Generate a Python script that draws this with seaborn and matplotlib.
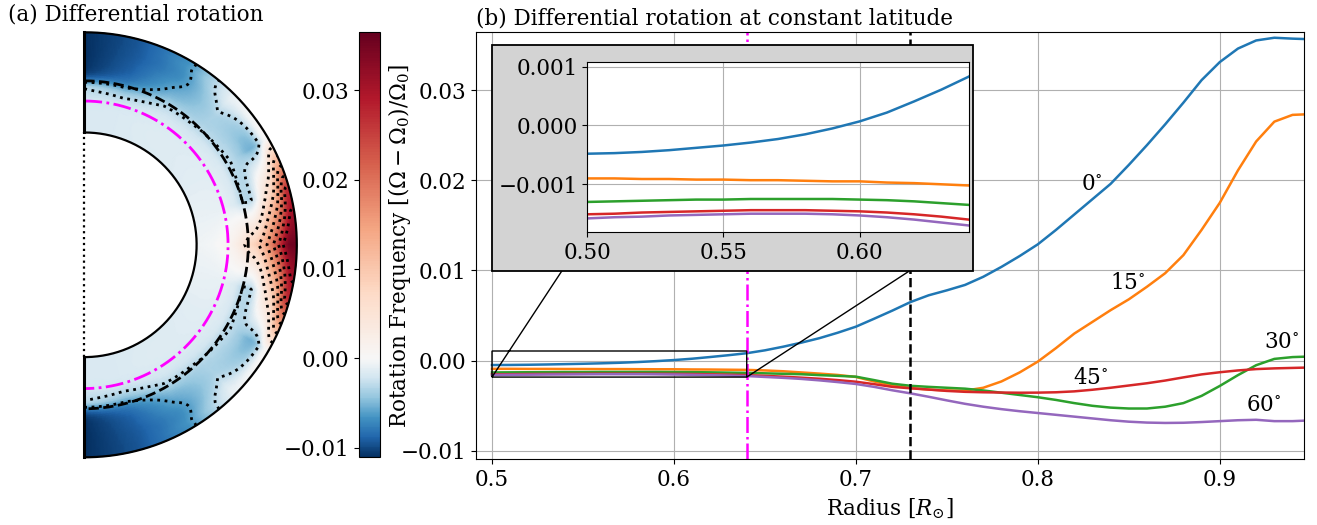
import numpy as np
import pandas as pd
import matplotlib
matplotlib.use("Agg")
import matplotlib.pyplot as plt
import seaborn as sns
from matplotlib.colors import ListedColormap, Normalize
from matplotlib.cm import ScalarMappable
from matplotlib.patches import Rectangle

# ---------------- data ----------------
radius = [0.50, 0.51, 0.52, 0.53, 0.54, 0.55, 0.56, 0.57, 0.58, 0.59,
          0.60, 0.61, 0.62, 0.63, 0.64, 0.65, 0.66, 0.67, 0.68, 0.69,
          0.70, 0.71, 0.72, 0.73, 0.74, 0.75, 0.76, 0.77, 0.78, 0.79,
          0.80, 0.81, 0.82, 0.83, 0.84, 0.85, 0.86, 0.87, 0.88, 0.89,
          0.90, 0.91, 0.92, 0.93, 0.94, 0.946]

omega_lat0 = [-0.00048, -0.00047, -0.00045, -0.00042, -0.00038, -0.00034, -0.00029, -0.00023, -0.00015, -0.00005,
              0.00007, 0.00022, 0.00041, 0.00061, 0.00083, 0.00115, 0.00155, 0.00200, 0.00250, 0.00310,
              0.00377, 0.00465, 0.00555, 0.00650, 0.00725, 0.00780, 0.00840, 0.00930, 0.01040, 0.01160,
              0.01290, 0.01450, 0.01620, 0.01790, 0.01960, 0.02170, 0.02390, 0.02620, 0.02860, 0.03110,
              0.03310, 0.03460, 0.03550, 0.03580, 0.03570, 0.03566]
omega_lat15 = [-0.00090, -0.00090, -0.00091, -0.00091, -0.00092, -0.00092, -0.00093, -0.00093, -0.00094, -0.00095,
               -0.00095, -0.00097, -0.00098, -0.00100, -0.00102, -0.00108, -0.00117, -0.00130, -0.00143, -0.00158,
               -0.00180, -0.00230, -0.00275, -0.00303, -0.00320, -0.00330, -0.00332, -0.00300, -0.00230, -0.00130,
               -0.00010, 0.00140, 0.00300, 0.00430, 0.00560, 0.00680, 0.00820, 0.00970, 0.01170, 0.01450,
               0.01750, 0.02110, 0.02430, 0.02650, 0.02725, 0.02730]
omega_lat30 = [-0.00130, -0.00129, -0.00128, -0.00127, -0.00126, -0.00126, -0.00125, -0.00125, -0.00125, -0.00125,
               -0.00126, -0.00127, -0.00129, -0.00132, -0.00135, -0.00140, -0.00145, -0.00150, -0.00160, -0.00168,
               -0.00177, -0.00215, -0.00255, -0.00278, -0.00290, -0.00300, -0.00310, -0.00330, -0.00355, -0.00380,
               -0.00405, -0.00435, -0.00470, -0.00500, -0.00520, -0.00530, -0.00530, -0.00510, -0.00470, -0.00390,
               -0.00280, -0.00160, -0.00050, 0.00020, 0.00040, 0.00044]
omega_lat45 = [-0.00151, -0.00150, -0.00148, -0.00147, -0.00146, -0.00145, -0.00144, -0.00144, -0.00144, -0.00145,
               -0.00146, -0.00148, -0.00151, -0.00155, -0.00160, -0.00168, -0.00177, -0.00188, -0.00200, -0.00215,
               -0.00233, -0.00260, -0.00290, -0.00306, -0.00320, -0.00335, -0.00345, -0.00350, -0.00353, -0.00355,
               -0.00354, -0.00350, -0.00340, -0.00322, -0.00300, -0.00275, -0.00250, -0.00220, -0.00185, -0.00152,
               -0.00128, -0.00108, -0.00093, -0.00085, -0.00080, -0.00077]
omega_lat60 = [-0.00158, -0.00156, -0.00155, -0.00153, -0.00152, -0.00151, -0.00150, -0.00150, -0.00150, -0.00151,
               -0.00153, -0.00156, -0.00160, -0.00165, -0.00170, -0.00180, -0.00190, -0.00202, -0.00218, -0.00237,
               -0.00258, -0.00290, -0.00328, -0.00362, -0.00400, -0.00440, -0.00478, -0.00510, -0.00537, -0.00560,
               -0.00580, -0.00600, -0.00620, -0.00640, -0.00660, -0.00676, -0.00686, -0.00690, -0.00688, -0.00680,
               -0.00670, -0.00660, -0.00655, -0.00670, -0.00670, -0.00665]
# high-latitude profiles (only visible in the meridional map)
omega_lat75 = [-0.00170, -0.00170, -0.00170, -0.00170, -0.00170, -0.00170, -0.00170, -0.00170, -0.00170, -0.00170,
               -0.00170, -0.00175, -0.00180, -0.00190, -0.00200, -0.00220, -0.00250, -0.00280, -0.00320, -0.00370,
               -0.00430, -0.00500, -0.00580, -0.00660, -0.00730, -0.00780, -0.00820, -0.00850, -0.00870, -0.00890,
               -0.00900, -0.00910, -0.00915, -0.00920, -0.00925, -0.00930, -0.00935, -0.00940, -0.00940, -0.00945,
               -0.00945, -0.00950, -0.00950, -0.00950, -0.00950, -0.00950]
omega_lat90 = [-0.00180, -0.00180, -0.00180, -0.00180, -0.00180, -0.00180, -0.00180, -0.00180, -0.00180, -0.00180,
               -0.00180, -0.00185, -0.00190, -0.00200, -0.00210, -0.00220, -0.00235, -0.00250, -0.00270, -0.00290,
               -0.00310, -0.00400, -0.00550, -0.00700, -0.00850, -0.00950, -0.01020, -0.01060, -0.01080, -0.01090,
               -0.01100, -0.01100, -0.01105, -0.01105, -0.01110, -0.01110, -0.01110, -0.01110, -0.01110, -0.01110,
               -0.01110, -0.01110, -0.01110, -0.01110, -0.01110, -0.01110]

latitudes = [0, 15, 30, 45, 60]
map_latitudes = [0, 15, 30, 45, 60, 75, 90]
curve_labels = ["0$^{\\circ}$", "15$^{\\circ}$", "30$^{\\circ}$", "45$^{\\circ}$", "60$^{\\circ}$"]
label_r = [0.8295, 0.8492, 0.9338, 0.8292, 0.9239]
label_val = [0.0196, 0.0086, 0.0021, -0.00195, -0.0049]

r_overshoot = 0.64
r_tachocline = 0.73
contour_levels = [-0.006, -0.003, 0.005, 0.01, 0.015, 0.02, 0.025, 0.03]

# ---------------- style ----------------
FS = 15.5
plt.rcParams["font.family"] = "DejaVu Serif"
plt.rcParams["mathtext.fontset"] = "dejavuserif"
plt.rcParams["font.size"] = FS

W, H = 1317, 525
fig = plt.figure(figsize=(W / 100, H / 100), dpi=100)

vmin_c, vmax_c = -0.01109, 0.0365
base = plt.get_cmap("RdBu_r")
n_neg = int(round(512 * (-vmin_c) / (vmax_c - vmin_c)))
n_pos = 512 - n_neg
cmap = ListedColormap(np.vstack([base(np.linspace(0.0, 0.5, n_neg)),
                                 base(np.linspace(0.5, 1.0, n_pos))]))
norm = Normalize(vmin=vmin_c, vmax=vmax_c)

# ---------------- (a) meridional map ----------------
r_out = radius[-1]
r_in = radius[0]
ax1 = fig.add_axes([84.3 / W, 1 - 457.3 / H, 212.5 / W, 425 / H])
r_arr = np.array(radius)
prof = np.vstack([omega_lat0, omega_lat15, omega_lat30, omega_lat45,
                  omega_lat60, omega_lat75, omega_lat90])
colat = np.linspace(0, np.pi, 361)
latdeg = np.abs(90 - np.degrees(colat))
F = np.array([np.interp(latdeg, map_latitudes, prof[:, j]) for j in range(len(r_arr))]).T
R, TH = np.meshgrid(r_arr, colat)
X = R * np.sin(TH)
Z = R * np.cos(TH)
ax1.pcolormesh(X, Z, F, cmap=cmap, norm=norm, shading="gouraud")
ax1.contour(X, Z, F, levels=contour_levels, colors="k", linestyles=":", linewidths=2.0)

th = np.linspace(0, np.pi, 400)
ax1.plot(r_out * np.sin(th), r_out * np.cos(th), color="k", lw=1.6, clip_on=False)
ax1.plot(r_in * np.sin(th), r_in * np.cos(th), color="k", lw=1.6, clip_on=False)
ax1.plot(r_overshoot * np.sin(th), r_overshoot * np.cos(th), color="magenta", ls="-.", lw=2.0)
ax1.plot(r_tachocline * np.sin(th), r_tachocline * np.cos(th), color="k", ls="--", lw=2.0)
ax1.plot([0, 0], [r_in, r_out], color="k", lw=2.2, clip_on=False)
ax1.plot([0, 0], [-r_out, -r_in], color="k", lw=2.2, clip_on=False)
ax1.plot([0, 0], [-r_in, r_in], color="k", ls=":", lw=1.6, clip_on=False)
ax1.set_xlim(0, r_out)
ax1.set_ylim(-r_out, r_out)
ax1.set_aspect("equal")
ax1.axis("off")

fig.text(8 / W, 1 - 15 / H, "(a) Differential rotation", ha="left", va="center")

# colorbar
cax = fig.add_axes([359.3 / W, 1 - 457.3 / H, 20.7 / W, 425 / H])
cb = fig.colorbar(ScalarMappable(norm=norm, cmap=cmap), cax=cax)
cb.set_ticks([-0.01, 0.0, 0.01, 0.02, 0.03])
cax.yaxis.set_ticks_position("left")
cax.yaxis.set_label_position("left")

# ---------------- (b) profiles ----------------
ax2 = fig.add_axes([476 / W, 1 - 459.3 / H, 828 / W, 427.6 / H])
series = [omega_lat0, omega_lat15, omega_lat30, omega_lat45, omega_lat60]
df = pd.DataFrame({
    "radius": np.tile(radius, len(series)),
    "omega": np.concatenate(series),
    "latitude": np.repeat([f"{l}" for l in latitudes], len(radius)),
})
hue_order = [f"{l}" for l in latitudes]
palette = sns.color_palette("tab10", 5)

sns.lineplot(data=df, x="radius", y="omega", hue="latitude", hue_order=hue_order,
             palette=palette, legend=False, ax=ax2, linewidth=1.8,
             estimator=None, sort=False)
ax2.axvline(r_overshoot, color="magenta", ls="-.", lw=1.8)
ax2.axvline(r_tachocline, color="k", ls="--", lw=1.8)
for txt, xr, yv in zip(curve_labels, label_r, label_val):
    ax2.text(xr, yv, txt, ha="center", va="center")
ax2.set_xlim(0.4912, 0.9463)
ax2.set_ylim(-0.01093, 0.03647)
ax2.set_xticks([0.5, 0.6, 0.7, 0.8, 0.9])
ax2.set_yticks([-0.01, 0.0, 0.01, 0.02, 0.03])
ax2.grid(True)
ax2.set_xlabel("Radius [$R_{\\odot}$]")
ax2.set_ylabel("Rotation Frequency [$(\\Omega - \\Omega_0)/\\Omega_0$]")
ax2.yaxis.set_label_coords((413 - 476) / 828, 0.5)
ax2.set_title("(b) Differential rotation at constant latitude", loc="left",
              fontsize=FS, pad=5)

# gray backdrop behind inset
ax2.add_patch(Rectangle((0.0197, 0.4411), 0.5809, 0.5278, transform=ax2.transAxes,
                        facecolor="lightgray", edgecolor="k", lw=1.3, zorder=4.995))

axins = ax2.inset_axes([0.1344, 0.5309, 0.4606, 0.3976])
sns.lineplot(data=df, x="radius", y="omega", hue="latitude", hue_order=hue_order,
             palette=palette, legend=False, ax=axins, linewidth=1.8,
             estimator=None, sort=False)
axins.set_xlim(0.5, 0.64)
axins.set_ylim(-0.001816, 0.001075)
axins.set_xticks([0.50, 0.55, 0.60])
axins.set_yticks([-0.001, 0.0, 0.001])
axins.grid(True)
axins.set_xlabel("")
axins.set_ylabel("")
ax2.indicate_inset_zoom(axins, edgecolor="k", alpha=1, linewidth=1.0)

fig.savefig("out.png", dpi=100)
